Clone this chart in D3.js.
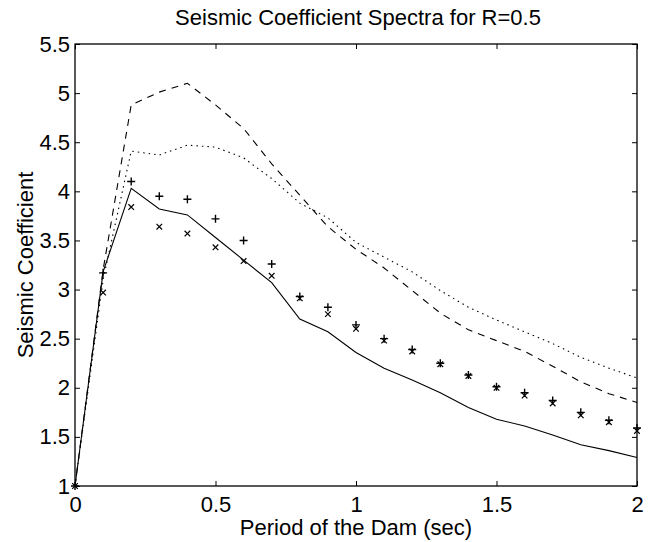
<!DOCTYPE html>
<html>
<head>
<meta charset="utf-8">
<script src="https://cdn.jsdelivr.net/npm/d3@7"></script>
<style>
  html, body { margin: 0; padding: 0; background: #fff; }
  svg { display: block; }
  text { font-family: "Liberation Sans", Arial, Helvetica, sans-serif; fill: #000; }
</style>
</head>
<body>
<svg id="chart" width="656" height="542"></svg>
<script>
// ---- data ----
const periods = [0, 0.1, 0.2, 0.3, 0.4, 0.5, 0.6, 0.7, 0.8, 0.9, 1.0,
                 1.1, 1.2, 1.3, 1.4, 1.5, 1.6, 1.7, 1.8, 1.9, 2.0];
const solidSeries  = [1, 3.18, 4.03, 3.82, 3.76, 3.53, 3.30, 3.07, 2.70, 2.57, 2.36,
                      2.20, 2.08, 1.95, 1.80, 1.68, 1.61, 1.52, 1.42, 1.36, 1.29];
const dashedSeries = [1, 3.20, 4.88, 5.01, 5.10, 4.88, 4.64, 4.28, 3.96, 3.64, 3.41,
                      3.22, 2.99, 2.76, 2.59, 2.48, 2.37, 2.22, 2.06, 1.94, 1.85];
const dottedSeries = [1, 3.10, 4.41, 4.37, 4.47, 4.45, 4.34, 4.13, 3.88, 3.73, 3.48,
                      3.33, 3.18, 2.99, 2.82, 2.69, 2.57, 2.45, 2.31, 2.20, 2.10];
const plusSeries   = [1, 3.17, 4.10, 3.95, 3.92, 3.72, 3.50, 3.26, 2.93, 2.82, 2.64,
                      2.50, 2.39, 2.25, 2.13, 2.01, 1.95, 1.87, 1.75, 1.67, 1.59];
const crossSeries  = [1, 2.97, 3.84, 3.64, 3.57, 3.43, 3.29, 3.14, 2.91, 2.75, 2.60,
                      2.48, 2.37, 2.24, 2.12, 2.00, 1.92, 1.84, 1.72, 1.65, 1.56];
const xTicks = [0, 0.5, 1, 1.5, 2];
const yTicks = [1, 1.5, 2, 2.5, 3, 3.5, 4, 4.5, 5, 5.5];
const titleText = "Seismic Coefficient Spectra for R=0.5";
const xLabel = "Period of the Dam (sec)";
const yLabel = "Seismic Coefficient";

// ---- layout ----
const L = 75, R = 637, T = 44, B = 486;
const svg = d3.select("#chart");
const x = d3.scaleLinear().domain([0, 2]).range([L, R]);
const y = d3.scaleLinear().domain([1, 5.5]).range([B, T]);
const fmt = d => String(d);

// axes (MATLAB style: inward ticks on all four sides)
const gx = svg.append("g").attr("transform", `translate(0,${B})`)
  .call(d3.axisBottom(x).tickValues(xTicks).tickFormat(fmt).tickSizeInner(-5).tickSizeOuter(0).tickPadding(10));
const gxt = svg.append("g").attr("transform", `translate(0,${T})`)
  .call(d3.axisTop(x).tickValues(xTicks).tickFormat("").tickSizeInner(-5).tickSizeOuter(0));
const gy = svg.append("g").attr("transform", `translate(${L},0)`)
  .call(d3.axisLeft(y).tickValues(yTicks).tickFormat(fmt).tickSizeInner(-5).tickSizeOuter(0).tickPadding(5));
const gyr = svg.append("g").attr("transform", `translate(${R},0)`)
  .call(d3.axisRight(y).tickValues(yTicks).tickFormat("").tickSizeInner(-5).tickSizeOuter(0));
[gx, gxt, gy, gyr].forEach(g => {
  g.select(".domain").remove();
  g.selectAll(".tick line").attr("stroke", "#000").attr("stroke-width", 1);
  g.selectAll(".tick text").attr("font-size", 22).attr("font-family", "Liberation Sans, Arial, sans-serif").attr("fill", "#000");
});

svg.append("rect")
  .attr("x", L).attr("y", T).attr("width", R - L).attr("height", B - T)
  .attr("fill", "none").attr("stroke", "#000").attr("stroke-width", 1.3);

// lines
const line = d3.line().x((d, i) => x(periods[i])).y(d => y(d));
const drawLine = (data, dash) => svg.append("path")
  .datum(data)
  .attr("d", line)
  .attr("fill", "none")
  .attr("stroke", "#000")
  .attr("stroke-width", 1.1)
  .attr("stroke-dasharray", dash);
drawLine(solidSeries, null);
drawLine(dashedSeries, "7,6");
drawLine(dottedSeries, "1.5,4");

// markers
const ms = 4;
svg.append("g").selectAll("path").data(plusSeries).join("path")
  .attr("d", (d, i) => {
    const cx = x(periods[i]), cy = y(d);
    return `M${cx - ms},${cy}H${cx + ms}M${cx},${cy - ms}V${cy + ms}`;
  })
  .attr("stroke", "#000").attr("stroke-width", 1.4).attr("fill", "none");
const mc = 2.8;
svg.append("g").selectAll("path").data(crossSeries).join("path")
  .attr("d", (d, i) => {
    const cx = x(periods[i]), cy = y(d);
    return `M${cx - mc},${cy - mc}L${cx + mc},${cy + mc}M${cx - mc},${cy + mc}L${cx + mc},${cy - mc}`;
  })
  .attr("stroke", "#000").attr("stroke-width", 1.2).attr("fill", "none");

// texts
svg.append("text").attr("x", (L + R) / 2 + 2).attr("y", 25)
  .attr("text-anchor", "middle").attr("font-size", 22).text(titleText);
svg.append("text").attr("x", (L + R) / 2).attr("y", 535)
  .attr("text-anchor", "middle").attr("font-size", 22).text(xLabel);
svg.append("text").attr("transform", `translate(33,${(T + B) / 2}) rotate(-90)`)
  .attr("text-anchor", "middle").attr("font-size", 22).text(yLabel);
</script>
</body>
</html>
